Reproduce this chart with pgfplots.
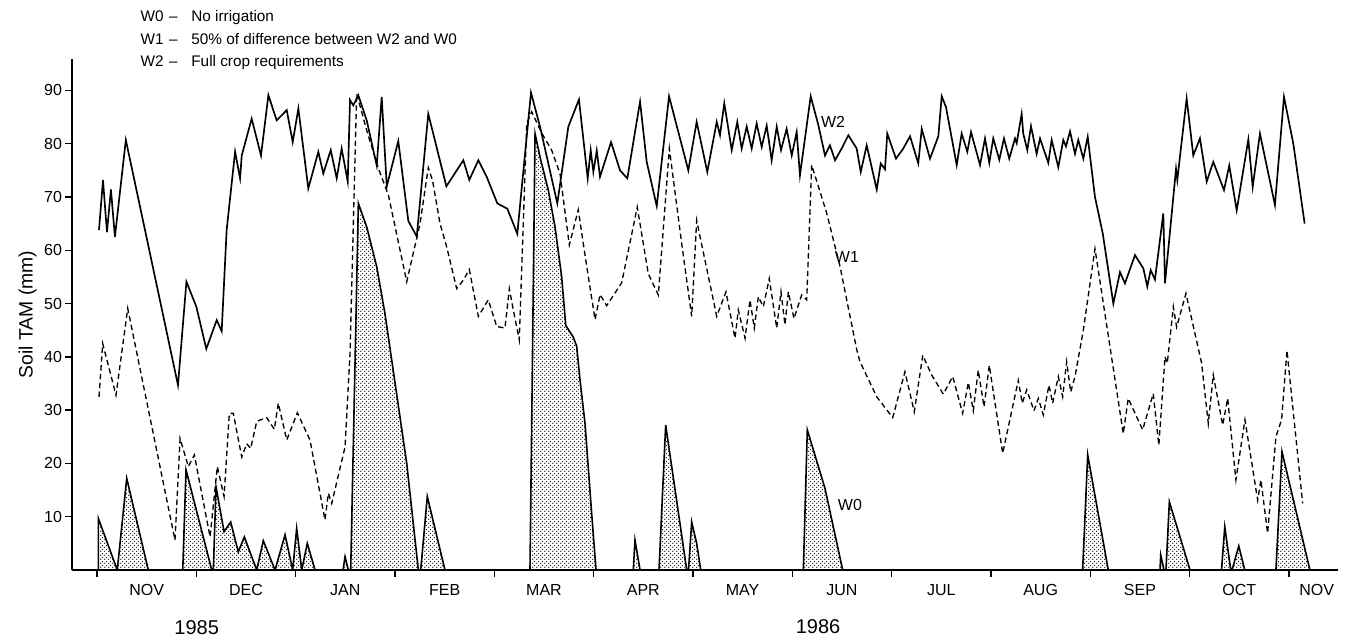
\documentclass[border=0pt]{standalone}
\usepackage{fontspec}
\setmainfont{Liberation Sans}
\usepackage{pgfplots}
\pgfplotsset{compat=1.18}
\usetikzlibrary{patterns}

% fine staggered stipple like the printed shading
\pgfdeclarepatternformonly{stipple}{\pgfpointorigin}{\pgfqpoint{3pt}{3pt}}%
  {\pgfqpoint{3pt}{3pt}}{%
  \pgfpathcircle{\pgfqpoint{0.75pt}{0.75pt}}{0.6pt}%
  \pgfpathcircle{\pgfqpoint{2.25pt}{2.25pt}}{0.6pt}%
  \pgfusepath{fill}}

% x = months since 1 Nov 1985
\pgfplotstableread{
x y
0.02 63.8
0.06 73.2
0.10 63.4
0.14 71.4
0.18 62.5
0.29 80.7
0.815 34.7
0.90 54.1
1.00 49.4
1.10 41.5
1.205 46.9
1.255 44.8
1.305 63.8
1.39 78.5
1.44 73.5
1.457 77.8
1.557 84.7
1.651 77.8
1.725 89.1
1.809 84.4
1.91 86.3
1.97 80.3
2.027 86.6
2.127 71.6
2.228 78.5
2.278 74.4
2.353 78.8
2.413 73.5
2.463 79.1
2.524 72.9
2.547 88.2
2.58 87.2
2.631 89.1
2.715 84.4
2.816 75.9
2.866 88.8
2.917 72.0
3.033 80.5
3.134 65.5
3.219 62.6
3.335 85.6
3.517 72.0
3.688 76.9
3.748 73.2
3.839 76.9
3.923 73.8
4.03 68.8
4.131 67.8
4.231 63.1
4.369 89.6
4.46 83.2
4.634 68.8
4.745 83.2
4.852 88.3
4.94 73.5
4.97 78.8
4.997 74.7
5.031 78.7
5.064 73.8
5.175 80.3
5.265 75.0
5.339 73.5
5.467 87.9
5.534 76.6
5.635 68.3
5.759 88.9
5.953 75.0
6.037 84.1
6.144 74.7
6.239 84.1
6.272 81.6
6.315 87.6
6.39 78.8
6.446 84.1
6.49 79.1
6.541 83.2
6.591 79.1
6.641 83.8
6.692 79.4
6.742 83.4
6.792 76.9
6.843 83.2
6.886 78.8
6.943 82.8
6.994 77.8
7.044 82.2
7.077 74.1
7.185 88.9
7.262 83.5
7.329 77.8
7.379 79.7
7.43 76.9
7.497 79.1
7.564 81.6
7.648 79.1
7.689 74.7
7.749 79.7
7.85 71.4
7.89 76.3
7.933 75.2
7.956 81.9
8.044 77.2
8.117 79.1
8.185 81.4
8.268 76.3
8.303 82.8
8.386 77.2
8.47 81.4
8.504 88.9
8.547 86.9
8.655 76.0
8.705 81.9
8.762 78.5
8.799 82.2
8.89 76.0
8.94 81.0
8.983 76.4
9.023 81.0
9.084 77.0
9.131 81.0
9.184 77.2
9.242 81.0
9.259 80.1
9.309 85.6
9.325 81.9
9.366 78.8
9.403 83.3
9.46 78.1
9.494 81.0
9.577 76.4
9.611 80.7
9.678 75.6
9.728 80.7
9.755 79.5
9.796 82.3
9.846 78.1
9.879 80.7
9.93 77.2
9.974 81.3
10.047 70.0
10.125 63.2
10.232 50.0
10.299 55.9
10.349 53.8
10.45 59.1
10.534 56.6
10.574 53.2
10.608 56.3
10.651 54.5
10.735 66.9
10.752 53.8
10.82 66.9
10.863 75.3
10.876 73.2
10.97 88.5
11.037 77.8
11.104 81.0
11.172 72.9
11.238 76.6
11.346 71.3
11.399 75.9
11.474 67.5
11.591 80.8
11.635 71.9
11.708 81.9
11.859 68.5
11.95 88.8
12.044 80.0
12.158 65.0
}\wtwo

\pgfplotstableread{
x y
0.02 32.5
0.057 42.5
0.191 32.8
0.309 49.1
0.785 5.6
0.836 24.7
0.919 19.4
0.98 21.6
1.138 6.2
1.211 19.4
1.279 13.8
1.332 29.4
1.372 29.4
1.457 21.2
1.507 23.7
1.547 22.8
1.608 27.9
1.708 28.6
1.785 26.4
1.825 31.3
1.91 24.4
2.017 29.5
2.144 24.4
2.295 9.4
2.329 14.4
2.363 12.5
2.497 23.1
2.547 40.6
2.614 89.4
2.715 82.5
2.832 75.4
2.933 70.4
3.118 54.1
3.252 65.0
3.335 75.5
3.378 73.1
3.453 65.0
3.521 60.6
3.621 52.8
3.688 54.4
3.748 56.4
3.839 47.6
3.939 50.7
4.024 45.7
4.107 45.4
4.151 52.8
4.191 48.8
4.251 43.2
4.326 83.8
4.376 86.0
4.477 82.0
4.577 78.8
4.661 74.4
4.755 61.0
4.845 67.6
4.93 57.0
5.014 47.0
5.064 51.7
5.131 49.6
5.282 53.9
5.439 68.1
5.55 55.6
5.651 51.6
5.762 79.1
5.886 61.3
5.987 47.6
6.037 65.6
6.239 47.6
6.332 52.2
6.423 43.5
6.456 48.8
6.524 43.5
6.574 50.7
6.617 45.4
6.658 51.3
6.708 49.4
6.768 54.7
6.843 45.4
6.886 52.2
6.926 46.0
6.96 52.2
7.017 47.2
7.094 51.6
7.145 50.7
7.195 76.0
7.346 67.0
7.48 57.0
7.648 41.4
7.681 39.1
7.85 32.5
8.011 28.6
8.134 37.2
8.228 29.7
8.313 40.3
8.403 36.6
8.52 33.0
8.615 36.3
8.715 29.4
8.772 35.2
8.822 29.9
8.872 37.5
8.93 30.6
8.983 38.4
9.118 21.9
9.275 35.6
9.315 31.3
9.36 33.8
9.433 29.9
9.477 32.2
9.527 29.1
9.584 34.7
9.621 31.3
9.678 36.3
9.722 32.5
9.762 39.1
9.803 33.4
9.846 36.3
9.93 45.0
10.047 60.3
10.332 25.6
10.382 32.2
10.527 26.3
10.634 33.1
10.69 23.4
10.752 40.0
10.775 38.8
10.836 49.4
10.869 45.6
10.963 51.9
11.121 38.8
11.188 27.5
11.238 36.6
11.333 27.2
11.383 32.2
11.466 16.9
11.557 28.2
11.685 13.1
11.718 16.9
11.785 6.9
11.869 25.0
11.926 28.2
11.98 41.2
12.138 12.5
}\wone

\pgfplotstableread{
x y
0.013 9.7
0.204 0
0.299 17.2
0.516 0
0.863 0
0.896 18.8
1.155 0
1.171 0
1.198 15.6
1.279 7.2
1.346 9.0
1.422 3.4
1.483 6.2
1.608 0
1.674 5.5
1.792 0
1.893 6.6
1.97 0
2.01 7.8
2.061 0
2.117 5.0
2.195 0
2.477 0
2.497 2.5
2.53 0
2.554 0
2.631 68.8
2.715 64.4
2.816 56.9
2.899 48.1
3.118 20.0
3.235 0
3.259 0
3.325 13.8
3.503 0
4.359 0
4.41 81.9
4.46 77.5
4.543 71.3
4.611 64.4
4.678 55.0
4.719 45.9
4.795 43.7
4.829 42.0
4.863 35.6
4.913 27.5
4.98 10.6
5.024 0
5.399 0
5.416 5.6
5.467 0
5.658 0
5.725 27.2
5.937 0
5.955 0
5.987 9.0
6.037 5.0
6.078 0
7.111 0
7.151 26.3
7.329 15.3
7.507 0
9.923 0
9.974 21.6
10.181 0
10.702 0
10.709 2.8
10.742 0
10.762 0
10.796 12.8
11.004 0
11.321 0
11.354 8.1
11.414 0
11.427 0
11.495 4.5
11.555 0
11.869 0
11.93 22.2
12.211 0
}\wzero

\begin{document}
\begin{tikzpicture}
\useasboundingbox (-54pt,-51.75pt) rectangle (957pt,427.5pt);
\begin{axis}[
    at={(0,0)}, anchor=south west,
    scale only axis,
    width=949.5pt, height=383.25pt,
    xmin=-0.252, xmax=12.494,
    ymin=0, ymax=95.9,
    axis x line*=bottom, axis y line*=left,
    axis line style={-, line width=1.3pt},
    tick align=outside,
    major tick length=5pt,
    tick style={line width=1pt, black},
    xtick={0,...,12}, xticklabels={},
    extra x ticks={0.5,1.5,2.5,3.5,4.5,5.5,6.5,7.5,8.5,9.5,10.5,11.5,12.28},
    extra x tick labels={NOV,DEC,JAN,FEB,MAR,APR,MAY,JUN,JUL,AUG,SEP,OCT,NOV},
    extra x tick style={major tick length=0pt,
        xticklabel style={font=\fontsize{12}{14}\selectfont, yshift=-7.5pt}},
    ytick={10,20,...,90},
    yticklabel style={font=\fontsize{12}{14}\selectfont, xshift=1pt},
    /pgf/number format/assume math mode=true,
    ylabel={Soil TAM (mm)},
    ylabel style={at={(axis description cs:-0.035,0.5)}, anchor=center,
        font=\fontsize{14.5}{16}\selectfont},
]
\addplot[draw=black, line width=1.2pt, pattern=stipple, pattern color=black]
    table {\wzero} \closedcycle;
\addplot[black, line width=1pt, dash pattern=on 4pt off 2.6pt] table {\wone};
\addplot[black, line width=1.25pt] table {\wtwo};
\node[font=\fontsize{12}{14}\selectfont] at (axis cs:7.41,84.1) {W2};
\node[font=\fontsize{12}{14}\selectfont] at (axis cs:7.55,58.8) {W1};
\node[font=\fontsize{12}{14}\selectfont] at (axis cs:7.58,12.2) {W0};
\end{axis}
\begin{scope}[every node/.style={font=\fontsize{11.5}{13}\selectfont}]
\node[anchor=base west] at (48pt,411.2pt) {W0};
\node[anchor=base] at (76pt,411.2pt) {--};
\node[anchor=base west] at (86pt,411.2pt) {No irrigation};
\node[anchor=base west] at (48pt,393.9pt) {W1};
\node[anchor=base] at (76pt,393.9pt) {--};
\node[anchor=base west] at (86pt,393.9pt) {50\% of difference between W2 and W0};
\node[anchor=base west] at (48pt,377.5pt) {W2};
\node[anchor=base] at (76pt,377.5pt) {--};
\node[anchor=base west] at (86pt,377.5pt) {Full crop requirements};
\end{scope}
\node[font=\fontsize{15}{18}\selectfont] at (93.5pt,-43.5pt) {1985};
\node[font=\fontsize{15}{18}\selectfont] at (559.5pt,-42.75pt) {1986};
\end{tikzpicture}
\end{document}
